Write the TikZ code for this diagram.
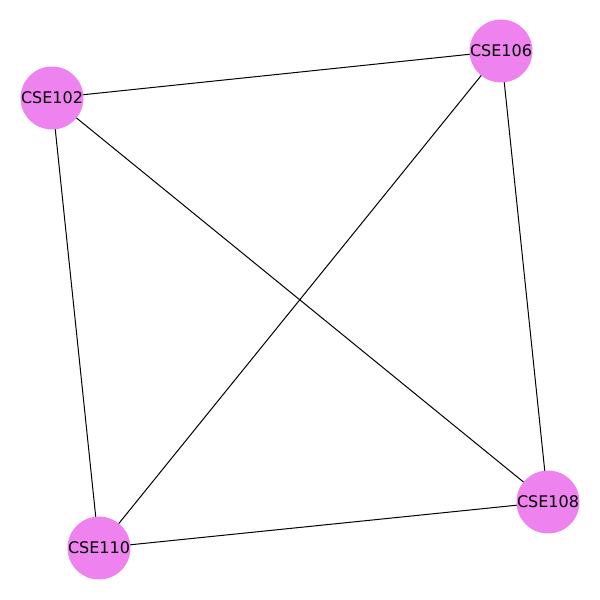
\documentclass[tikz,border=0pt]{standalone}
\usepackage{fontspec}
\setmainfont{DejaVu Sans}
\usetikzlibrary{backgrounds}
\begin{document}
\begin{tikzpicture}[x=0.75pt,y=-0.75pt,
  vnode/.style={circle,fill={rgb,255:red,238;green,130;blue,238},minimum size=46.5pt,inner sep=0pt,font=\fontsize{12pt}{14pt}\selectfont},
  edge/.style={draw=black,line width=0.75pt}]
\useasboundingbox (0,0) rectangle (600,600);
\node[vnode] (a) at (52,98) {CSE102};
\node[vnode] (b) at (501,51) {CSE106};
\node[vnode] (c) at (548,502) {CSE108};
\node[vnode] (d) at (99,548) {CSE110};
\begin{scope}[on background layer]
\draw[edge] (a.center) -- (b.center) (a.center) -- (c.center) (a.center) -- (d.center)
  (b.center) -- (c.center) (b.center) -- (d.center) (c.center) -- (d.center);
\end{scope}
\end{tikzpicture}
\end{document}
